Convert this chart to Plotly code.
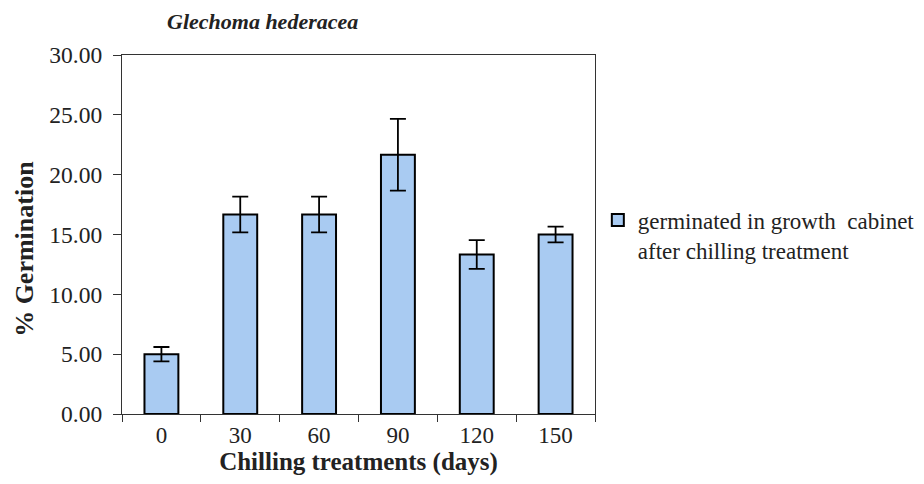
import plotly.graph_objects as go

# Datos
dias = ['0', '30', '60', '90', '120', '150']
germinacion = [5.00, 16.67, 16.67, 21.67, 13.33, 15.00]
error = [0.6, 1.5, 1.5, 3.0, 1.2, 0.65]
y_ticks = [0, 5, 10, 15, 20, 25, 30]

serif = 'Liberation Serif, Times New Roman, serif'

trace = go.Bar(
    x=dias,
    y=germinacion,
    name='germinated in growth  cabinet<br>after chilling treatment',
    marker=dict(color='#A9CBF2', line=dict(color='black', width=2)),
    error_y=dict(type='data', array=error, color='black', thickness=1.8, width=8),
)

fig = go.Figure(data=[trace])

fig.update_layout(
    width=924, height=484,
    margin=dict(l=114, r=324, t=47, b=78),
    paper_bgcolor='white',
    plot_bgcolor='white',
    bargap=0.57,
    font=dict(family=serif, size=23, color='#222222'),
    showlegend=True,
    legend=dict(
        x=1.006, y=0.6, xanchor='left', yanchor='top',
        valign='top', font=dict(size=23, family=serif),
        bgcolor='rgba(0,0,0,0)',
        itemwidth=30, tracegroupgap=0,
    ),
)

fig.update_xaxes(
    type='category',
    showline=True, linecolor='#333333', linewidth=1.2, mirror=True,
    ticks='outside', tickson='boundaries', ticklen=7, tickcolor='#333333',
    showgrid=False,
    tickfont=dict(size=23),
    title=dict(text='<b>Chilling treatments (days)</b>', font=dict(size=25), standoff=2),
)

fig.update_yaxes(
    range=[0, 30],
    tickvals=y_ticks,
    tickformat='.2f',
    showline=True, linecolor='#333333', linewidth=1.2, mirror=True,
    ticks='outside', ticklen=8, tickcolor='#333333', ticklabelstandoff=6,
    showgrid=False, zeroline=False, automargin=False,
    tickfont=dict(size=23.5),
)

# Titulo del eje y
fig.add_annotation(
    text='<b>% Germination</b>', textangle=-90,
    xref='paper', yref='paper', x=0, y=0.46, xshift=-97,
    xanchor='center', yanchor='middle', showarrow=False,
    font=dict(size=26, family=serif),
)

fig.add_annotation(
    text='<b><i>Glechoma hederacea</i></b>',
    xref='paper', yref='paper', x=0.09, y=1.0, yshift=19,
    xanchor='left', yanchor='bottom', showarrow=False,
    font=dict(size=22, family=serif),
)

fig.write_html('out.html')
